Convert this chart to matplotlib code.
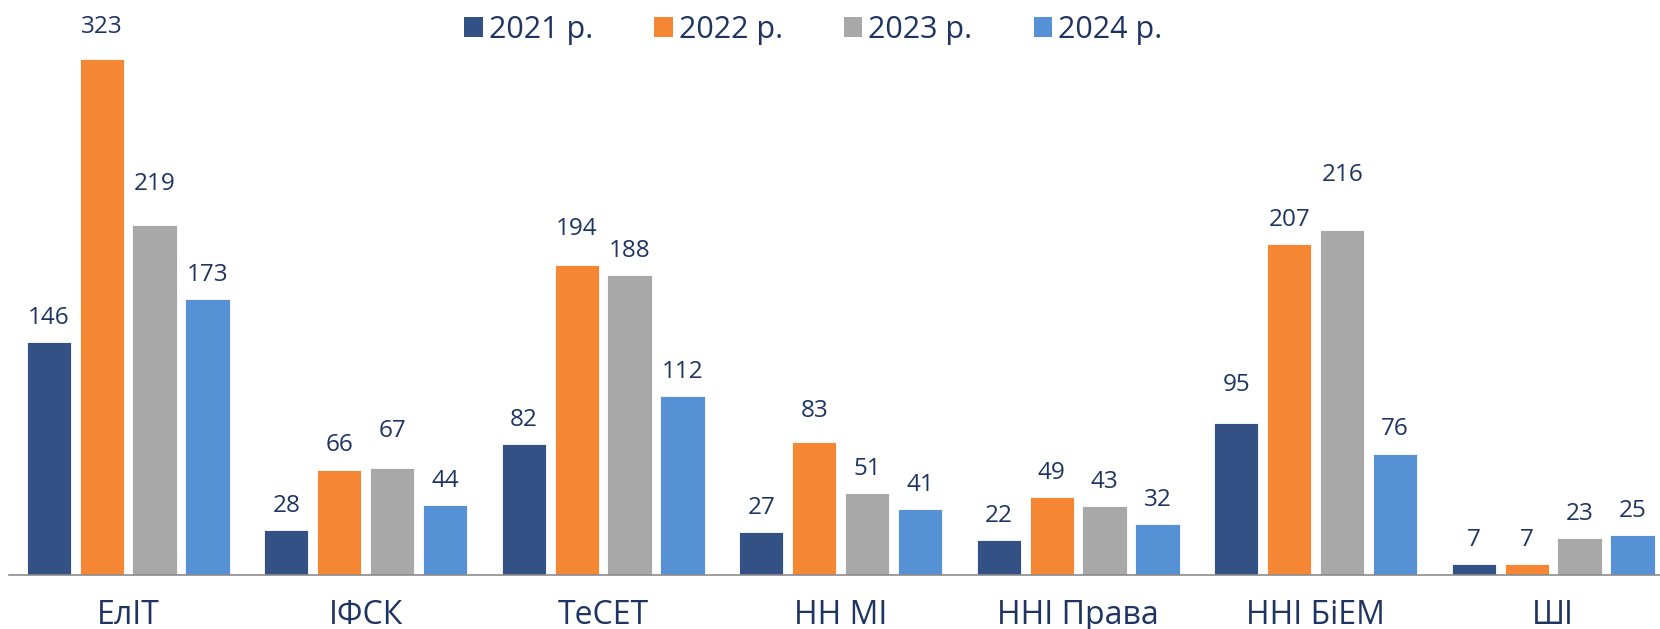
import numpy as np
import matplotlib.pyplot as plt
from matplotlib.patches import Patch

plt.rcParams['font.family'] = ['Open Sans', 'DejaVu Sans']

# Data
categories = ['ЕлІТ', 'ІФСК', 'ТеСЕТ', 'НН МІ', 'ННІ Права', 'ННІ БіЕМ', 'ШІ']
years = ['2021 р.', '2022 р.', '2023 р.', '2024 р.']
v2021 = [146, 28, 82, 27, 22, 95, 7]
v2022 = [323, 66, 194, 83, 49, 207, 7]
v2023 = [219, 67, 188, 51, 43, 216, 23]
v2024 = [173, 44, 112, 41, 32, 76, 25]
series = [v2021, v2022, v2023, v2024]

colors = ['#335184', '#F58634', '#A8A8A8', '#5690D5']
text_color = '#1F3561'

# some labels in the original are lifted by hand (points above the default)
label_lift = {(1, 0): 6, (2, 0): 12, (2, 1): 9, (1, 2): 9,
              (1, 3): 5, (0, 5): 10, (2, 5): 22}

fig = plt.figure(figsize=(16.6, 6.29), dpi=100)
ax = fig.add_axes([0.0057, 0.086, 1.0015, 0.914])

x = np.arange(len(categories))
width = 0.187
step = 0.223

for i, (vals, c) in enumerate(zip(series, colors)):
    pos = x + (i - 1.5) * step
    bars = ax.bar(pos, vals, width, color=c, edgecolor='white', linewidth=0.6)
    for j, (b, v) in enumerate(zip(bars, vals)):
        off = 13 + label_lift.get((i, j), 0)
        ax.annotate(str(v), (b.get_x() + b.get_width() / 2, v),
                    xytext=(0, off), textcoords='offset points',
                    ha='center', va='baseline', fontsize=17.5, color=text_color)

ax.set_xlim(-0.5, len(categories) - 0.5)
ax.set_ylim(0, 360)
ax.set_xticks(x)
ax.set_xticklabels(categories, fontsize=23, color=text_color)
ax.tick_params(axis='x', length=0, pad=17)
ax.set_yticks([])
for s in ['top', 'right', 'left']:
    ax.spines[s].set_visible(False)
ax.spines['bottom'].set_color('#8C8C8C')
ax.spines['bottom'].set_linewidth(1.2)

handles = [Patch(facecolor=c, label=y) for c, y in zip(colors, years)]
fig.legend(handles=handles, loc='upper center', bbox_to_anchor=(0.49, 1.02),
           ncol=4, frameon=False, fontsize=22, labelcolor=text_color,
           handlelength=0.6, handleheight=0.6, handletextpad=0.2,
           columnspacing=2.0)

fig.savefig('out.png', dpi=100)
